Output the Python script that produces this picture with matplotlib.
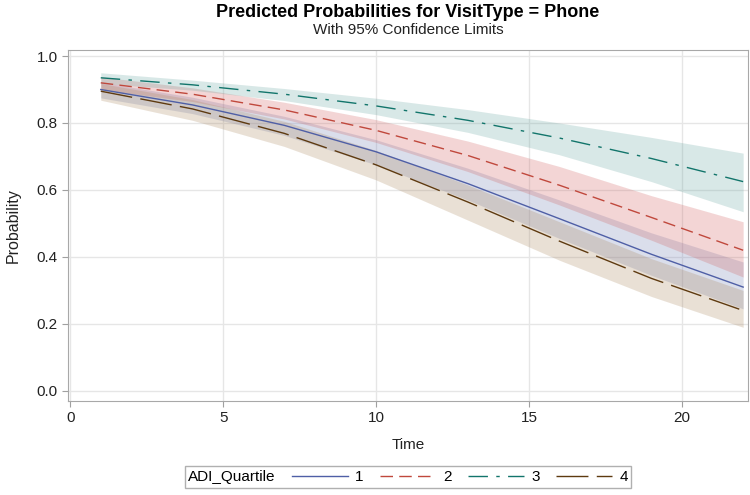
import matplotlib
matplotlib.use("Agg")
import matplotlib.pyplot as plt
from matplotlib.lines import Line2D

plt.rcParams['font.family'] = ['Liberation Sans', 'DejaVu Sans']

# values
time = [1, 4, 7, 10, 13, 16, 19, 22]
quartiles = ['1', '2', '3', '4']

prob_1 = [0.900, 0.854, 0.793, 0.714, 0.619, 0.514, 0.408, 0.310]
low_1 = [0.875, 0.828, 0.763, 0.675, 0.570, 0.455, 0.345, 0.245]
up_1 = [0.922, 0.877, 0.820, 0.750, 0.665, 0.570, 0.472, 0.385]

prob_2 = [0.920, 0.886, 0.839, 0.778, 0.703, 0.614, 0.518, 0.420]
low_2 = [0.900, 0.864, 0.812, 0.742, 0.655, 0.555, 0.450, 0.340]
up_2 = [0.938, 0.905, 0.862, 0.810, 0.746, 0.670, 0.583, 0.505]

prob_3 = [0.935, 0.914, 0.886, 0.851, 0.808, 0.755, 0.694, 0.625]
low_3 = [0.918, 0.898, 0.867, 0.825, 0.772, 0.705, 0.625, 0.535]
up_3 = [0.950, 0.928, 0.903, 0.874, 0.840, 0.800, 0.757, 0.710]

prob_4 = [0.895, 0.842, 0.769, 0.675, 0.564, 0.447, 0.336, 0.240]
low_4 = [0.868, 0.808, 0.730, 0.630, 0.510, 0.390, 0.282, 0.190]
up_4 = [0.918, 0.870, 0.805, 0.718, 0.615, 0.505, 0.395, 0.300]

probs = [prob_1, prob_2, prob_3, prob_4]
lows = [low_1, low_2, low_3, low_4]
ups = [up_1, up_2, up_3, up_4]

line_colors = ['#4f5fa6', '#c0483c', '#12756b', '#5e3a10']
band_colors = ['#6F7EB3', '#D05B5B', '#66A5A0', '#A9865B']
styles = ['-', (0, (9, 4.5)), (0, (14, 6, 2.5, 6)), (0, (23, 6))]

fig = plt.figure(figsize=(7.5, 4.95), dpi=100)
ax = fig.add_axes([0.0907, 0.19, 0.9063, 0.709])

for lo, hi, c in zip(lows, ups, band_colors):
    ax.fill_between(time, lo, hi, color=c, alpha=0.25, lw=0)

handles = []
for p, c, ls in zip(probs, line_colors, styles):
    ax.plot(time, p, color=c, ls=ls, lw=1.0)
    handles.append(Line2D([], [], color=c, ls=ls, lw=1.0))

ax.set_xlim(-0.07, 22.15)
ax.set_ylim(-0.03, 1.018)
ax.set_xticks([0, 5, 10, 15, 20])
ax.set_yticks([0.0, 0.2, 0.4, 0.6, 0.8, 1.0])
ax.set_yticklabels(['0.0', '0.2', '0.4', '0.6', '0.8', '1.0'])
ax.grid(True, color='#e6e6e6', lw=1)
ax.set_axisbelow(True)
for s in ax.spines.values():
    s.set_color('#a8a8a8')
ax.tick_params(direction='out', length=4, color='#a0a0a0',
               labelsize=11, labelcolor='#222222')

ax.set_xlabel('Time', fontsize=11, color='#222222', labelpad=9)
ax.set_ylabel('Probability', fontsize=11.5, color='#222222', labelpad=11)

fig.text(0.544, 0.975, 'Predicted Probabilities for VisitType = Phone',
         ha='center', va='center', fontsize=13, fontweight='bold')
fig.text(0.544, 0.94, 'With 95% Confidence Limits',
         ha='center', va='center', fontsize=11, color='#222222')

leg = fig.legend(handles, quartiles, title='ADI_Quartile', ncol=4,
                 loc='center', bbox_to_anchor=(0.544, 0.036),
                 fontsize=11, title_fontsize=11, frameon=True,
                 fancybox=False, edgecolor='#b0b0b0', framealpha=1,
                 handlelength=3.7, handletextpad=0.45, columnspacing=1.05,
                 borderpad=0.25)
leg.get_frame().set_linewidth(1.0)
# move the title to the left of the entries, as SAS does
box = leg.get_children()[0]
title_box, entries = box.get_children()
box._children = [entries]
entries._children = [title_box] + entries.get_children()

fig.savefig('out.png', dpi=100)
